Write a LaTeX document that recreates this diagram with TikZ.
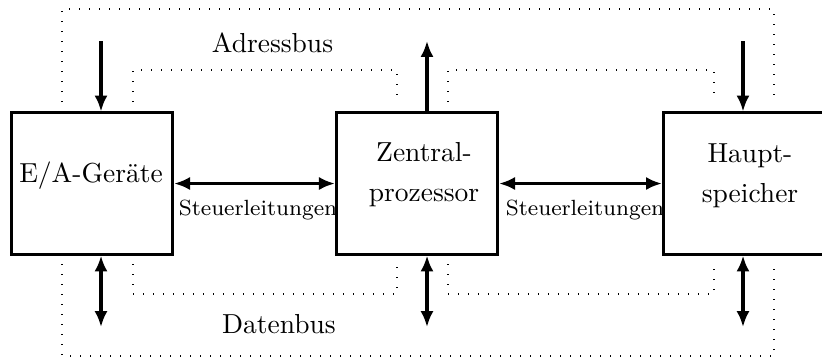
\documentclass[tikz,border=0pt]{standalone}
\usetikzlibrary{arrows.meta}
\begin{document}
\begin{tikzpicture}[x=0.3637pt,y=-0.3637pt,
  unitbox/.style={draw,line width=1.1pt,minimum width=58.6pt,minimum height=51.3pt,inner sep=0pt},
  bus/.style={line width=0.4pt,dash pattern=on 0.4pt off 3.237pt},
  tip/.tip={Latex[length=5.8pt,width=4.8pt]},
  signal/.style={line width=1.2pt,-tip},
  duplex/.style={line width=1.2pt,tip-tip},
  lbl/.style={inner sep=0pt,anchor=base},
  twoline/.style={inner sep=0pt,align=center}]
\useasboundingbox (0,0) rectangle (822,358);

% functional units (the memory box runs past the right margin)
\node[unitbox] (ea) at (92,183.5) {};
\node[unitbox] (zp) at (417,183.5) {};
\node[unitbox,minimum width=62pt] (hs) at (748.7,183.5) {};

\node[lbl] (eaT) at (91,182) {E/A-Geräte};
\node[twoline] (zpT) at (424,174.6) {Zentral-\\[2.2pt]prozessor};
\node[twoline] (hsT) at (750,175.5) {Haupt-\\[2.4pt]speicher};

% address bus and data bus outlines
\draw[bus] (62,102) -- (62,9) -- (774,9) -- (774,102);
\draw[bus] (133,102) -- (133,70) -- (397,70) -- (397,102);
\draw[bus] (448,102) -- (448,70) -- (714,70) -- (714,102);
\draw[bus] (62,264) -- (62,356) -- (774,356) -- (774,264);
\draw[bus] (133,264) -- (133,294) -- (397,294) -- (397,264);
\draw[bus] (448,264) -- (448,294) -- (714,294) -- (714,264);

\node[lbl] (adr) at (272.5,52) {Adressbus};
\node[lbl] (dat) at (279,333) {Datenbus};

% address lines
\coordinate (a1) at (101,41);
\coordinate (a2) at (427,41);
\coordinate (a3) at (743,41);
\draw[signal] (a1) -- (a1 |- ea.north);
\draw[signal] (a2 |- zp.north) -- (a2);
\draw[signal] (a3) -- (a3 |- hs.north);

% data lines
\coordinate (d1) at (101,327);
\coordinate (d2) at (427,327);
\coordinate (d3) at (743,327);
\draw[duplex] (d1 |- ea.south) -- (d1);
\draw[duplex] (d2 |- zp.south) -- (d2);
\draw[duplex] (d3 |- hs.south) -- (d3);

% control lines
\draw[duplex] (ea.east) -- (zp.west);
\draw[duplex] (zp.east) -- (hs.west);
\node[lbl,font=\footnotesize] (st1) at (258,215) {Steuerleitungen};
\node[lbl,font=\footnotesize] (st2) at (585,215) {Steuerleitungen};
\end{tikzpicture}
\end{document}
